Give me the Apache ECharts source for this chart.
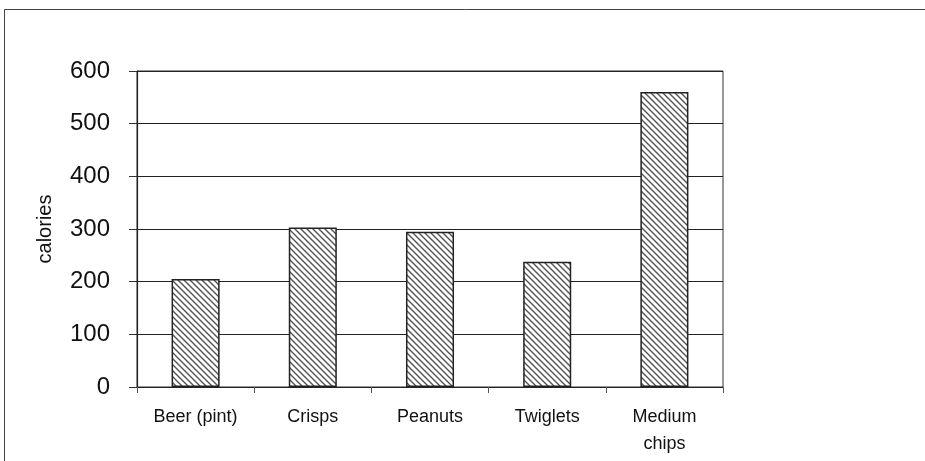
<!DOCTYPE html>
<html>
<head>
<meta charset="utf-8">
<style>
  html, body { margin: 0; padding: 0; background: #fff; }
  #chart { width: 925px; height: 461px; }
</style>
<script src="https://cdn.jsdelivr.net/npm/echarts@6/dist/echarts.min.js"></script>
</head>
<body>
<div id="chart"></div>
<script>
// Snack foods and their calorie content
const categories = ['Beer (pint)', 'Crisps', 'Peanuts', 'Twiglets', 'Medium\nchips'];
const calories = [205, 303, 295, 238, 560];
const yTicks = [0, 100, 200, 300, 400, 500, 600];

// Diagonal hatch fill for the bars
function hatchPattern() {
  const s = 6;
  const c = document.createElement('canvas');
  c.width = s; c.height = s;
  const g = c.getContext('2d');
  g.fillStyle = '#ffffff';
  g.fillRect(0, 0, s, s);
  g.strokeStyle = '#555555';
  g.lineWidth = 1.4;
  g.beginPath();
  g.moveTo(-1, -1); g.lineTo(s + 1, s + 1);
  g.moveTo(s - 1, -1); g.lineTo(s + 1, 1);
  g.moveTo(-1, s - 1); g.lineTo(1, s + 1);
  g.stroke();
  return c;
}

const chart = echarts.init(document.getElementById('chart'), null, { renderer: 'canvas' });
const font = "'Liberation Sans', Arial, sans-serif";

chart.setOption({
  animation: false,
  backgroundColor: '#ffffff',
  graphic: [{
    type: 'rect',
    shape: { x: 4.5, y: 9.5, width: 2000, height: 2000 },
    style: { fill: 'none', stroke: '#444', lineWidth: 1 },
    silent: true
  }],
  grid: {
    left: 137, top: 71, right: 202, bottom: 74,
    show: true, borderColor: '#333', borderWidth: 1, backgroundColor: 'transparent'
  },
  xAxis: {
    type: 'category',
    data: categories,
    axisLine: { lineStyle: { color: '#222', width: 1 } },
    axisTick: { show: true, length: 6, alignWithLabel: false, lineStyle: { color: '#555' } },
    axisLabel: {
      color: '#111', fontFamily: font, fontSize: 18, lineHeight: 27, margin: 17,
      interval: 0
    },
    splitLine: { show: false }
  },
  yAxis: {
    type: 'value',
    min: yTicks[0],
    max: yTicks[yTicks.length - 1],
    interval: 100,
    name: 'calories',
    nameLocation: 'middle',
    nameGap: 82,
    nameRotate: 90,
    nameTextStyle: { color: '#111', fontFamily: font, fontSize: 20 },
    axisLine: { show: true, lineStyle: { color: '#222', width: 1.2 } },
    axisTick: { show: true, length: 8, lineStyle: { color: '#333' } },
    axisLabel: { color: '#111', fontFamily: font, fontSize: 24, margin: 27 },
    splitLine: { show: true, lineStyle: { color: '#222', width: 1 } }
  },
  series: [{
    type: 'bar',
    data: calories,
    barWidth: '41%',
    itemStyle: {
      color: { image: hatchPattern(), repeat: 'repeat' },
      borderColor: '#222',
      borderWidth: 1.5
    }
  }]
});
</script>
</body>
</html>
